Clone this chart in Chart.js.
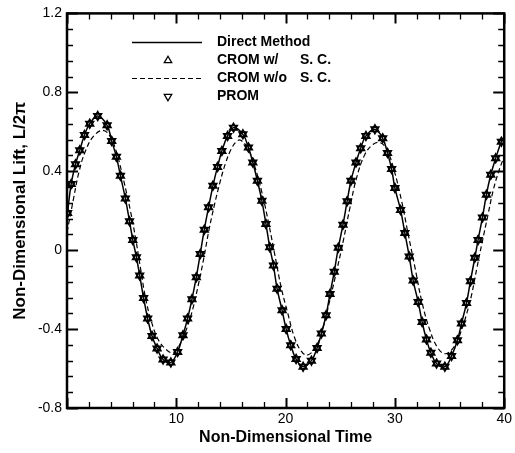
<!DOCTYPE html>
<html>
<head>
<meta charset="utf-8">
<script src="https://cdn.jsdelivr.net/npm/chart.js@4.4.1/dist/chart.umd.min.js"></script>
<style>
  html, body { margin: 0; padding: 0; background: #fff; }
</style>
</head>
<body>
<canvas id="lift" width="515" height="453"></canvas>
<script>
// sampled reduced-order model points (time, lift)
const markerTime = [0.05, 0.38, 0.78, 1.17, 1.60, 2.08, 2.81, 3.67, 4.09, 4.52,
    4.89, 5.34, 5.72, 6.02, 6.35, 6.65, 7.01, 7.38, 7.78, 8.24,
    8.79, 9.50, 10.12, 10.61, 11.03, 11.43, 11.83, 12.19, 12.56, 12.95,
    13.35, 13.77, 14.17, 14.69, 15.23, 16.09, 16.60, 17.00, 17.42, 17.83,
    18.20, 18.55, 18.89, 19.22, 19.68, 20.05, 20.47, 20.96, 21.60, 22.36,
    22.88, 23.27, 23.70, 24.06, 24.45, 24.82, 25.25, 25.63, 25.98, 26.44,
    26.87, 27.35, 28.17, 28.88, 29.32, 29.70, 30.00, 30.52, 30.91, 31.31,
    31.67, 32.13, 32.49, 32.89, 33.29, 33.81, 34.57, 35.18, 35.72, 36.09,
    36.55, 36.91, 37.31, 37.61, 38.01, 38.37, 38.77, 39.22, 39.74];
const markerLift = [0.188, 0.335, 0.436, 0.506, 0.584, 0.641, 0.680, 0.633, 0.553, 0.473,
    0.377, 0.262, 0.146, 0.052, -0.036, -0.128, -0.243, -0.347, -0.435, -0.498,
    -0.554, -0.569, -0.516, -0.431, -0.347, -0.249, -0.137, -0.019, 0.104, 0.217,
    0.326, 0.422, 0.503, 0.579, 0.621, 0.587, 0.520, 0.444, 0.352, 0.250,
    0.133, 0.015, -0.078, -0.195, -0.305, -0.400, -0.482, -0.552, -0.591, -0.560,
    -0.496, -0.423, -0.330, -0.222, -0.110, 0.012, 0.129, 0.248, 0.352, 0.444,
    0.517, 0.579, 0.613, 0.567, 0.493, 0.411, 0.315, 0.203, 0.087, -0.032,
    -0.154, -0.263, -0.364, -0.453, -0.520, -0.574, -0.591, -0.537, -0.457, -0.372,
    -0.268, -0.157, -0.039, 0.052, 0.166, 0.281, 0.382, 0.466, 0.550];

// direct method runs through the same samples, out to both ends of the window
const directTime = [0].concat(markerTime, [40]);
const directLift = [0.15].concat(markerLift, [0.575]);

// CROM without stability correction
const cromTime = [0.00, 0.62, 1.08, 1.69, 2.45, 3.30, 3.97, 4.58, 5.19, 5.80,
    6.26, 6.71, 7.17, 7.69, 8.38, 9.15, 9.70, 10.20, 10.60, 11.00,
    11.50, 12.00, 12.50, 13.00, 13.50, 14.00, 14.50, 15.00, 15.50, 15.90,
    16.60, 17.20, 17.80, 18.40, 19.00, 19.60, 20.20, 20.80, 21.40, 22.00,
    22.85, 23.45, 24.06, 24.68, 25.28, 25.89, 26.50, 27.26, 28.02, 28.63,
    29.24, 29.90, 30.61, 31.21, 31.83, 32.44, 33.20, 33.95, 34.60, 35.20,
    35.60, 36.00, 36.50, 37.00, 37.50, 38.00, 38.50, 39.00, 39.50, 40.00];
const cromLift = [0.090, 0.267, 0.393, 0.503, 0.579, 0.607, 0.574, 0.486, 0.352, 0.200,
    0.065, -0.086, -0.238, -0.356, -0.457, -0.507, -0.520, -0.490, -0.445, -0.390,
    -0.300, -0.180, -0.045, 0.105, 0.232, 0.345, 0.440, 0.510, 0.550, 0.557,
    0.510, 0.420, 0.300, 0.150, -0.020, -0.190, -0.320, -0.440, -0.510, -0.532,
    -0.482, -0.389, -0.250, -0.103, 0.048, 0.217, 0.368, 0.486, 0.537, 0.545,
    0.512, 0.410, 0.250, 0.082, -0.086, -0.255, -0.406, -0.498, -0.525, -0.505,
    -0.470, -0.420, -0.335, -0.230, -0.090, 0.045, 0.175, 0.305, 0.400, 0.475];

const xTicks = [0, 10, 20, 30, 40];
const yTicks = [-0.8, -0.4, 0, 0.4, 0.8, 1.2];
const legendNames = ['Direct Method', 'CROM w/', 'CROM w/o', 'PROM'];
const legendSuffix = ['', 'S. C.', 'S. C.', ''];

const pts = (xs, ys) => xs.map((x, i) => ({x: x, y: ys[i]}));

Chart.defaults.font.family = "'Liberation Sans', Arial, sans-serif";
Chart.defaults.color = '#000';

// tecplot style frame with inward ticks on all four sides
const framePlugin = {
    id: 'frame',
    afterDraw(chart) {
        const {ctx, chartArea: a, scales: {x, y}} = chart;
        ctx.save();
        ctx.strokeStyle = '#000';
        for (let v = 0; v <= 40.001; v += 2) {
            const major = Math.abs(v % 10) < 1e-6;
            const px = Math.round(x.getPixelForValue(v)) + 0.5;
            const len = major ? 10 : 6;
            ctx.lineWidth = major ? 2 : 1.3;
            ctx.beginPath();
            ctx.moveTo(px, a.bottom); ctx.lineTo(px, a.bottom - len);
            ctx.moveTo(px, a.top); ctx.lineTo(px, a.top + len);
            ctx.stroke();
        }
        for (let i = 0; i <= 25; i++) {
            const v = -0.8 + i * 0.08;
            const major = i % 5 === 0;
            const py = Math.round(y.getPixelForValue(v)) + 0.5;
            const len = major ? 11 : 6;
            ctx.lineWidth = major ? 2 : 1.3;
            ctx.beginPath();
            ctx.moveTo(a.left, py); ctx.lineTo(a.left + len, py);
            ctx.moveTo(a.right, py); ctx.lineTo(a.right - len, py);
            ctx.stroke();
        }
        ctx.lineWidth = 2.5;
        ctx.strokeRect(a.left, a.top, a.right - a.left, a.bottom - a.top);

        // legend block inside the plot
        ctx.font = "bold 14px 'Liberation Sans', Arial, sans-serif";
        ctx.textBaseline = 'middle';
        ctx.fillStyle = '#000';
        chart.data.datasets.forEach((ds, i) => {
            const ly = 42.5 + i * 18;
            if (ds.showLine) {
                ctx.lineWidth = ds.borderWidth;
                ctx.setLineDash(ds.borderDash || []);
                ctx.beginPath();
                ctx.moveTo(132, ly); ctx.lineTo(202, ly);
                ctx.stroke();
                ctx.setLineDash([]);
            } else {
                ctx.fillStyle = 'rgba(0,0,0,0)';
                ctx.lineWidth = 1.3;
                Chart.helpers.drawPoint(ctx, {
                    pointStyle: ds.pointStyle, rotation: ds.pointRotation || 0,
                    radius: ds.pointRadius, borderWidth: 1.3
                }, 168, ly);
                ctx.fillStyle = '#000';
            }
            ctx.fillText(legendNames[i], 217, ly);
            if (legendSuffix[i]) ctx.fillText(legendSuffix[i], 300, ly);
        });
        ctx.restore();
    }
};

new Chart(document.getElementById('lift'), {
    type: 'scatter',
    data: {
        datasets: [{
            label: 'Direct Method',
            data: pts(directTime, directLift),
            showLine: true,
            borderColor: '#000',
            borderWidth: 1.5,
            pointRadius: 0,
            tension: 0.4,
            order: 3
        }, {
            label: 'CROM w/ S. C.',
            data: pts(markerTime, markerLift),
            showLine: false,
            pointStyle: 'triangle',
            pointRadius: 4.3,
            pointBorderWidth: 1.7,
            borderColor: '#000',
            pointBorderColor: '#000',
            pointBackgroundColor: 'rgba(0,0,0,0)',
            order: 1
        }, {
            label: 'CROM w/o S. C.',
            data: pts(cromTime, cromLift),
            showLine: true,
            borderColor: '#000',
            borderWidth: 1.2,
            borderDash: [5, 3],
            pointRadius: 0,
            tension: 0.4,
            order: 2
        }, {
            label: 'PROM',
            data: pts(markerTime, markerLift),
            showLine: false,
            pointStyle: 'triangle',
            pointRotation: 180,
            pointRadius: 4.3,
            pointBorderWidth: 1.7,
            borderColor: '#000',
            pointBorderColor: '#000',
            pointBackgroundColor: 'rgba(0,0,0,0)',
            order: 0
        }]
    },
    options: {
        responsive: false,
        animation: false,
        devicePixelRatio: 1,
        layout: { padding: { top: 12, right: 10, left: 0, bottom: 0 } },
        plugins: { legend: { display: false }, tooltip: { enabled: false } },
        scales: {
            x: {
                type: 'linear', min: 0, max: 40,
                grid: { display: false, drawTicks: false },
                border: { display: false },
                afterBuildTicks: s => { s.ticks = xTicks.map(v => ({value: v})); },
                afterFit: s => { s.height = 45; },
                ticks: {
                    font: { size: 14 }, padding: 3, maxRotation: 0, autoSkip: false,
                    callback: v => v === 0 ? '' : String(v)
                },
                title: {
                    display: true, text: 'Non-Dimensional Time',
                    font: { size: 16, weight: 'bold' },
                    padding: { top: 0, bottom: 6 }
                }
            },
            y: {
                type: 'linear', min: -0.8, max: 1.2,
                grid: { display: false, drawTicks: false },
                border: { display: false },
                afterBuildTicks: s => { s.ticks = yTicks.map(v => ({value: v})); },
                afterFit: s => { s.width = 67; },
                ticks: {
                    font: { size: 14 }, padding: 5, autoSkip: false,
                    callback: v => String(v)
                },
                title: {
                    display: true, text: 'Non-Dimensional Lift, L/2π',
                    font: { size: 17, weight: 'bold' },
                    padding: { top: 10, bottom: 0 }
                }
            }
        }
    },
    plugins: [framePlugin]
});
</script>
</body>
</html>
